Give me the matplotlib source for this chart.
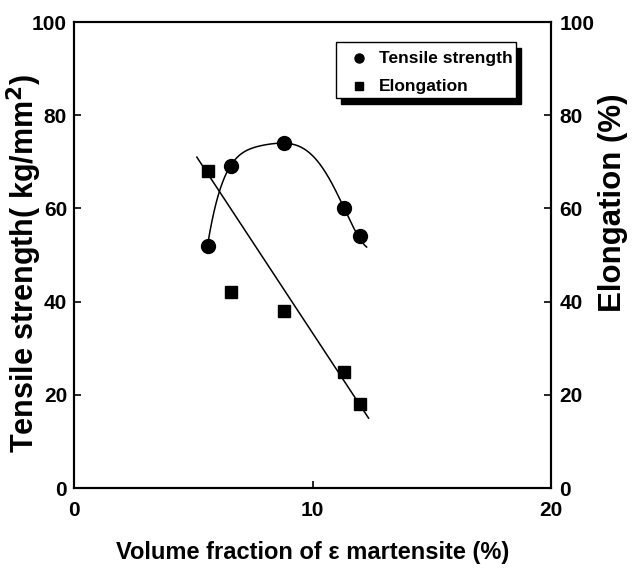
import numpy as np
import matplotlib
matplotlib.use("Agg")
import matplotlib.pyplot as plt
from matplotlib.patches import Rectangle

plt.rcParams['font.family'] = ['Liberation Sans', 'DejaVu Sans']
plt.rcParams['font.weight'] = 'bold'

# data
vol_frac = [5.6, 6.6, 8.8, 11.3, 12.0]
tensile = [52, 69, 74, 60, 54]
elongation = [68, 42, 38, 25, 18]
# fitted curves
tensile_fit_x = [5.6, 6.2, 6.9, 7.7, 8.5, 9.4, 10.2, 10.8, 11.3, 12.0, 12.27]
tensile_fit_y = [52, 65.5, 71.0, 73.2, 74.2, 73.3, 70.3, 65.5, 60.0, 53.9, 51.4]
elong_fit_x = [5.15, 12.35]
elong_fit_y = [71, 15]
x_ticks = [0, 10, 20]
y_ticks = [0, 20, 40, 60, 80, 100]

fig = plt.figure(figsize=(6.35, 5.69), dpi=100)
ax = fig.add_axes([74/635, 1-488/569, 477/635, 466/569])
ax.set_xlim(0, 20)
ax.set_ylim(0, 100)

coef = np.polyfit(tensile_fit_x, tensile_fit_y, 5)
cx = np.linspace(min(tensile_fit_x), max(tensile_fit_x), 300)
ax.plot(cx, np.polyval(coef, cx), color='black', lw=1.1)
ax.plot(vol_frac, tensile, 'o', color='black', ms=10)

ax2 = ax.twinx()
ax2.set_ylim(0, 100)
ax2.plot(elong_fit_x, elong_fit_y, color='black', lw=1.1)
ax2.plot(vol_frac, elongation, 's', color='black', ms=9)

for a in (ax, ax2):
    for s in a.spines.values():
        s.set_linewidth(1.5)
    a.tick_params(direction='in', length=5, width=1.2, labelsize=15)
ax.set_xticks(x_ticks)
ax.set_yticks(y_ticks)
ax2.set_yticks(y_ticks)
ax.tick_params(axis='x', pad=9)
ax.tick_params(axis='y', pad=5)
ax2.tick_params(axis='y', pad=6)


def fx(px): return px/635
def fy(py): return 1-py/569


fig.text(fx(313), fy(552), 'Volume fraction of ε martensite (%)', fontsize=17, fontweight='bold',
         ha='center', va='center')
fig.text(fx(24), fy(263), 'Tensile strength( kg/mm$^\\mathbf{2}$)', fontsize=22, fontweight='bold',
         ha='center', va='center', rotation=90)
fig.text(fx(613), fy(203), 'Elongation (%)', fontsize=22.5, fontweight='bold',
         ha='center', va='center', rotation=90)

# legend with shadow box (figure pixel coords)
lx0, ly0, lx1, ly1 = 336, 42, 516, 98
fig.patches.append(Rectangle((fx(lx0+5), fy(ly1+6)), fx(lx1)-fx(lx0), fy(ly0)-fy(ly1),
                             transform=fig.transFigure, facecolor='black', edgecolor='black', zorder=5))
fig.patches.append(Rectangle((fx(lx0), fy(ly1)), fx(lx1)-fx(lx0), fy(ly0)-fy(ly1),
                             transform=fig.transFigure, facecolor='white', edgecolor='black', lw=1.0, zorder=6))
fig.lines.append(plt.Line2D([fx(359)], [fy(58)], marker='o', ms=6.5, color='black', transform=fig.transFigure, zorder=7))
fig.lines.append(plt.Line2D([fx(359)], [fy(86)], marker='s', ms=6, color='black', transform=fig.transFigure, zorder=7))
fig.text(fx(379), fy(58), 'Tensile strength', fontsize=12.5, fontweight='bold', va='center', zorder=7)
fig.text(fx(379), fy(86), 'Elongation', fontsize=12.5, fontweight='bold', va='center', zorder=7)

fig.savefig('out.png', dpi=100)
